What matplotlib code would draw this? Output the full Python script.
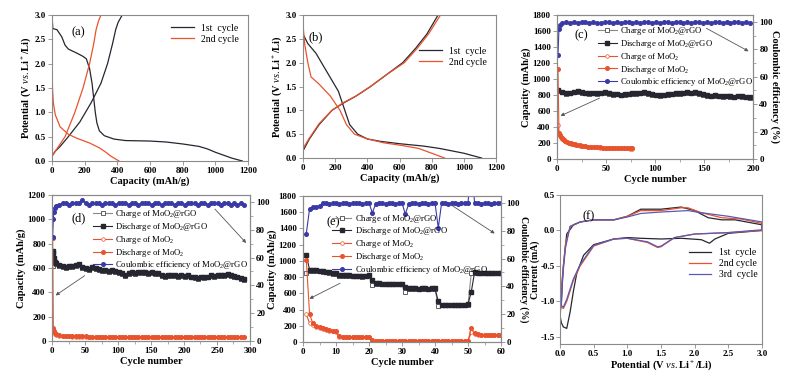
import numpy as np
import matplotlib
matplotlib.use('Agg')
import matplotlib.pyplot as plt
from matplotlib.ticker import MultipleLocator

plt.rcParams['font.family'] = ['Liberation Serif', 'DejaVu Serif']
plt.rcParams['mathtext.fontset'] = 'custom'
plt.rcParams['mathtext.rm'] = 'Liberation Serif'
plt.rcParams['mathtext.it'] = 'Liberation Serif:italic'
plt.rcParams['mathtext.bf'] = 'Liberation Serif:bold'
plt.rcParams['axes.unicode_minus'] = False

BLK = '#262630'
RED = '#e8532e'
BLU = '#3a3aa6'
GRY = '#8a8a8a'

########## (a) charge/discharge profiles ##########
a_dis1_cap = [0, 5, 30, 60, 80, 100, 150, 190, 210, 230, 245, 255, 265, 275, 290, 320, 380, 450, 600, 700, 800, 900, 950, 1000, 1050, 1100, 1165]
a_dis1_v = [3.0, 2.72, 2.7, 2.55, 2.38, 2.3, 2.22, 2.15, 2.1, 1.9, 1.6, 1.3, 1.0, 0.78, 0.62, 0.52, 0.45, 0.42, 0.41, 0.39, 0.35, 0.3, 0.25, 0.18, 0.12, 0.06, 0.0]
a_chg1_cap = [0, 20, 50, 100, 170, 240, 300, 340, 370, 390, 405, 430]
a_chg1_v = [0.1, 0.2, 0.3, 0.5, 0.8, 1.2, 1.6, 2.0, 2.4, 2.7, 2.85, 3.0]
a_dis2_cap = [0, 3, 8, 20, 50, 100, 150, 230, 290, 330, 360, 410]
a_dis2_v = [2.05, 1.5, 1.2, 0.95, 0.7, 0.55, 0.47, 0.37, 0.27, 0.18, 0.1, 0.0]
a_chg2_cap = [0, 40, 80, 140, 190, 230, 255, 270, 285, 300]
a_chg2_v = [0.1, 0.3, 0.5, 1.0, 1.5, 2.0, 2.4, 2.7, 2.88, 3.0]

########## (b) charge/discharge profiles ##########
b_dis1_cap = [0, 30, 80, 150, 220, 260, 290, 340, 400, 480, 600, 750, 850, 1000, 1110]
b_dis1_v = [2.6, 2.4, 2.2, 1.8, 1.4, 1.0, 0.7, 0.5, 0.4, 0.35, 0.3, 0.25, 0.2, 0.1, 0.0]
b_dis2_cap = [0, 10, 30, 50, 100, 170, 230, 270, 320, 400, 500, 620, 720, 800, 880]
b_dis2_v = [2.8, 2.4, 2.0, 1.7, 1.55, 1.3, 1.0, 0.7, 0.5, 0.4, 0.32, 0.26, 0.2, 0.1, 0.0]
b_chg1_cap = [0, 40, 100, 180, 250, 330, 420, 520, 620, 700, 770, 840]
b_chg1_v = [0.15, 0.4, 0.7, 1.0, 1.15, 1.3, 1.5, 1.75, 2.0, 2.3, 2.6, 3.0]
b_chg2_cap = [0, 40, 100, 180, 250, 330, 420, 520, 630, 710, 780, 855]
b_chg2_v = [0.2, 0.42, 0.72, 1.0, 1.16, 1.3, 1.5, 1.75, 2.0, 2.3, 2.6, 3.0]

########## (c) cycling 200 ##########
c_cyc = list(range(1, 200, 4))
c_dis = [860, 840, 825, 830, 840, 845, 835, 830, 825, 830, 820, 830, 835, 820, 810, 815, 805, 810, 815, 820,
         825, 830, 835, 820, 810, 805, 800, 805, 810, 815, 820, 825, 830, 835, 830, 835, 825, 810, 795, 790,
         795, 790, 785, 790, 785, 780, 790, 785, 780, 775]
c_chg = [850, 832, 818, 822, 833, 838, 828, 822, 818, 823, 813, 822, 828, 812, 803, 808, 798, 803, 808, 813,
         818, 823, 827, 813, 803, 798, 793, 798, 803, 808, 813, 818, 823, 828, 823, 828, 818, 803, 788, 783,
         788, 783, 778, 783, 778, 773, 783, 778, 773, 768]
c_ce_cyc = [1, 2, 3] + list(range(5, 200, 4))
c_ce = [76, 95, 98, 99, 100, 99, 100, 99, 100, 100, 99, 100, 99, 99, 100, 100, 99, 100, 99, 100,
        100, 99, 100, 99, 100, 100, 99, 100, 99, 100, 100, 99, 100, 100, 99, 100, 99, 100, 100, 99,
        100, 99, 100, 100, 99, 100, 99, 100, 100, 99, 100, 99]
c_m_cyc = [1, 2, 3, 4, 5, 6, 7, 8, 10, 12, 14, 16, 18, 20, 23, 26, 29, 32, 35, 38, 41, 44, 47, 50, 53, 56, 59, 62, 65, 68, 71, 74, 77]
c_m_dis = [1120, 330, 300, 280, 265, 250, 240, 230, 215, 205, 195, 188, 182, 176, 170, 165, 160, 156, 152, 149,
           146, 144, 142, 140, 138, 137, 136, 135, 134, 133, 133, 132, 132]
c_m_chg = [420, 310, 285, 270, 255, 245, 235, 225, 210, 200, 192, 185, 180, 174, 168, 163, 158, 154, 150, 147,
           144, 142, 140, 138, 137, 136, 135, 134, 133, 132, 132, 131, 131]

########## (d) cycling 300 ##########
d_cyc = [1, 2, 3, 4] + list(range(6, 292, 5))
d_dis = [740, 720, 680, 650,
         640, 625, 615, 610, 615, 620, 625, 635, 610, 600, 595, 605, 600, 590, 585, 580,
         575, 580, 575, 570, 555, 545, 560, 565, 560, 565, 570, 565, 560, 565, 560, 555,
         545, 535, 540, 545, 540, 535, 540, 535, 540, 530, 525, 520, 530, 525, 530, 540,
         535, 540, 545, 540, 550, 545, 535, 530, 515, 510]
d_chg = [620, 700, 665, 640,
         630, 615, 605, 600, 605, 610, 615, 625, 600, 592, 587, 597, 592, 582, 577, 572,
         567, 572, 567, 562, 547, 537, 552, 557, 552, 557, 562, 557, 552, 557, 552, 547,
         537, 527, 532, 537, 532, 527, 532, 527, 532, 522, 517, 512, 522, 517, 522, 532,
         527, 532, 537, 532, 542, 537, 527, 522, 507, 502]
d_ce = [75, 88, 93, 96,
        97, 98, 99, 99, 98, 99, 99, 99, 101.5, 99, 98, 99, 99, 99, 98, 99,
        99, 99, 98, 99, 99, 99, 98, 99, 99, 98, 99, 99, 99, 98, 99, 99,
        98, 99, 99, 99, 98, 99, 99, 98, 99, 99, 99, 98, 99, 99, 98, 99,
        99, 99, 98, 99, 99, 98, 99, 98, 99, 98]
d_m_dis = [850, 110, 80, 65,
           55, 48, 45, 42, 40, 39, 38, 38, 37, 37, 36, 36, 36, 35, 35, 35,
           35, 35, 35, 35, 35, 35, 35, 35, 35, 35, 35, 35, 35, 35, 35, 35,
           35, 35, 35, 35, 35, 35, 35, 35, 35, 35, 35, 35, 35, 35, 35, 35,
           35, 35, 35, 35, 35, 35, 35, 35, 35, 35]
d_m_chg = [100, 90, 70, 58,
           50, 44, 41, 39, 37, 36, 35, 35, 34, 34, 33, 33, 33, 32, 32, 32,
           32, 32, 32, 32, 32, 32, 32, 32, 32, 32, 32, 32, 32, 32, 32, 32,
           32, 32, 32, 32, 32, 32, 32, 32, 32, 32, 32, 32, 32, 32, 32, 32,
           32, 32, 32, 32, 32, 32, 32, 32, 32, 32]

########## (e) rate capability ##########
e_cyc = list(range(1, 61))
e_dis = [1070, 890, 890, 885, 880, 870, 865, 860, 850, 845,
         825, 825, 820, 820, 815, 815, 815, 810, 815, 820,
         760, 730, 725, 720, 720, 720, 715, 715, 720, 715,
         680, 660, 660, 660, 655, 660, 660, 655, 660, 660,
         500, 460, 460, 460, 460, 460, 460, 460, 460, 465,
         620, 860, 855, 855, 855, 850, 850, 850, 850, 850]
e_chg = [850, 870, 880, 878, 872, 864, 858, 852, 844, 838,
         815, 818, 814, 814, 810, 810, 810, 806, 810, 814,
         700, 720, 720, 716, 716, 716, 712, 712, 716, 712,
         620, 650, 655, 655, 650, 655, 655, 650, 655, 655,
         440, 455, 456, 456, 456, 456, 456, 456, 456, 460,
         850, 855, 852, 852, 852, 848, 848, 848, 848, 848]
e_ce = [78, 96, 97, 97, 98, 100, 100, 99.5, 100, 100,
        99.5, 100, 100, 99.5, 100, 100, 100, 99.5, 100, 100,
        93, 99, 100, 100, 99.5, 100, 100, 99.5, 100, 100,
        92, 99, 100, 100, 99.5, 100, 100, 99.5, 100, 100,
        82, 100, 100, 99.5, 100, 100, 99.5, 100, 100, 100,
        130, 100, 100, 99.5, 100, 100, 99.5, 100, 100, 100]
e_m_dis = [1010, 340, 230, 200, 185, 170, 160, 150, 140, 130,
           70, 65, 65, 65, 65, 65, 65, 62, 62, 62,
           22, 15, 15, 15, 15, 15, 15, 15, 15, 15,
           15, 15, 15, 15, 15, 15, 15, 15, 15, 15,
           15, 15, 15, 15, 15, 15, 15, 15, 15, 15,
           170, 110, 95, 90, 88, 88, 88, 88, 88, 88]
e_m_chg = [340, 230, 205, 185, 170, 160, 150, 140, 130, 120,
           60, 58, 58, 58, 58, 58, 58, 58, 58, 58,
           15, 12, 12, 12, 12, 12, 12, 12, 12, 12,
           12, 12, 12, 12, 12, 12, 12, 12, 12, 12,
           12, 12, 12, 12, 12, 12, 12, 12, 12, 12,
           120, 95, 85, 85, 85, 85, 85, 85, 85, 85]

########## (f) CV ##########
f_v1 = [3.0, 2.5, 2.3, 2.22, 2.1, 1.8, 1.5, 1.2, 1.0, 0.8, 0.5, 0.35, 0.25, 0.2, 0.15, 0.1, 0.05, 0.02, 0.0,
        0.02, 0.05, 0.1, 0.2, 0.3, 0.5, 0.8, 1.0, 1.2, 1.5, 1.8, 2.0, 2.2, 2.4, 2.6, 3.0, 3.0]
f_i1 = [0.0, -0.04, -0.12, -0.18, -0.13, -0.11, -0.12, -0.11, -0.1, -0.12, -0.2, -0.35, -0.6, -0.85, -1.15, -1.38, -1.36, -1.3, -1.2,
        -1.0, -0.5, -0.05, 0.08, 0.12, 0.15, 0.15, 0.2, 0.3, 0.3, 0.33, 0.28, 0.18, 0.15, 0.15, 0.08, 0.0]
f_v2 = [3.0, 2.5, 2.0, 1.7, 1.5, 1.45, 1.3, 1.0, 0.8, 0.5, 0.3, 0.2, 0.1, 0.05, 0.02,
        0.03, 0.08, 0.15, 0.3, 0.5, 0.8, 1.0, 1.2, 1.5, 1.8, 1.9, 2.1, 2.4, 2.7, 3.0, 3.0]
f_i2 = [0.0, -0.03, -0.05, -0.1, -0.23, -0.24, -0.17, -0.11, -0.12, -0.22, -0.5, -0.7, -1.0, -1.1, -1.08,
        -0.7, -0.2, 0.05, 0.12, 0.15, 0.15, 0.2, 0.28, 0.28, 0.32, 0.32, 0.25, 0.18, 0.16, 0.1, 0.0]
f_v3 = [3.0, 2.5, 2.0, 1.7, 1.5, 1.45, 1.3, 1.0, 0.8, 0.5, 0.3, 0.2, 0.1, 0.05, 0.02,
        0.03, 0.08, 0.15, 0.3, 0.5, 0.8, 1.0, 1.2, 1.5, 1.9, 2.1, 2.5, 3.0, 3.0]
f_i3 = [0.01, -0.03, -0.05, -0.1, -0.22, -0.23, -0.16, -0.11, -0.12, -0.21, -0.48, -0.68, -0.97, -1.08, -1.06,
        -0.75, -0.25, 0.06, 0.12, 0.15, 0.15, 0.19, 0.24, 0.26, 0.28, 0.25, 0.2, 0.12, 0.01]

W, H = 792, 376
fig = plt.figure(figsize=(W / 100, H / 100), dpi=100)


def box(x0, y0, x1, y1):
    return fig.add_axes([x0 / W, 1 - y1 / H, (x1 - x0) / W, (y1 - y0) / H])


def style(ax, pad=1.5):
    for s in ax.spines.values():
        s.set_color(GRY)
        s.set_linewidth(0.8)
    ax.tick_params(direction='out', length=3, width=0.6, color=GRY, labelsize=6.5, pad=pad)
    ax.tick_params(which='minor', direction='out', length=1.8, width=0.5, color=GRY)
    for t in ax.get_xticklabels() + ax.get_yticklabels():
        t.set_fontweight('bold')


lab = dict(fontsize=7.5, fontweight='bold', labelpad=1)
vlab = r'Potential (V $\mathit{vs.}$Li$\mathbf{^+}$/Li)'
mo2g = r'MoO$_2$@rGO'
mo2 = r'MoO$_2$'

# (a)
ax = box(52, 15, 248, 161)
ax.plot(a_dis1_cap, a_dis1_v, color=BLK, lw=0.9, label='1st  cycle')
ax.plot(a_chg1_cap, a_chg1_v, color=BLK, lw=0.9)
ax.plot(a_dis2_cap, a_dis2_v, color=RED, lw=0.9, label='2nd cycle')
ax.plot(a_chg2_cap, a_chg2_v, color=RED, lw=0.9)
ax.set_xlim(0, 1200)
ax.set_ylim(0, 3.0)
ax.xaxis.set_major_locator(MultipleLocator(200))
ax.yaxis.set_major_locator(MultipleLocator(0.5))
ax.yaxis.set_major_formatter('{x:.1f}')
ax.set_xlabel('Capacity (mAh/g)', **lab)
ax.set_ylabel(vlab, **lab)
ax.text(0.1, 0.86, '(a)', transform=ax.transAxes, fontsize=9)
ax.legend(loc='upper right', frameon=False, fontsize=7, handlelength=2.3, labelspacing=0.2,
          bbox_to_anchor=(1.0, 1.0))
style(ax)

# (b)
ax = box(303, 15, 496, 158)
ax.plot(b_dis1_cap, b_dis1_v, color=BLK, lw=0.9, label='1st  cycle')
ax.plot(b_chg1_cap, b_chg1_v, color=BLK, lw=0.9)
ax.plot(b_dis2_cap, b_dis2_v, color=RED, lw=0.9, label='2nd cycle')
ax.plot(b_chg2_cap, b_chg2_v, color=RED, lw=0.9)
ax.set_xlim(0, 1200)
ax.set_ylim(0, 3.0)
ax.xaxis.set_major_locator(MultipleLocator(200))
ax.yaxis.set_major_locator(MultipleLocator(0.5))
ax.yaxis.set_major_formatter('{x:.1f}')
ax.set_xlabel('Capacity (mAh/g)', **lab)
ax.set_ylabel(vlab, **lab)
ax.text(0.03, 0.82, '(b)', transform=ax.transAxes, fontsize=9)
ax.legend(loc='upper right', frameon=False, fontsize=7, handlelength=2.3, labelspacing=0.2,
          bbox_to_anchor=(1.0, 0.84))
style(ax)


def cycling(box_px, tag, tag_xy, cyc, chg, dis, m_cyc, m_chg, m_dis, ce_cyc, ce, xmax, xstep,
            ymax, ystep, arr1, arr2, leg_xy, ms, right_x=None, rpad=1.5, rsize=7.5):
    ax = box(*box_px)
    ax2 = ax.twinx()
    h1, = ax.plot(cyc, chg, color=GRY, lw=0.8, marker='s', ms=ms, mfc='white', mec=BLK, mew=0.5,
                  label='Charge of ' + mo2g)
    h2, = ax.plot(cyc, dis, color=BLK, lw=0.8, marker='s', ms=ms, label='Discharge of ' + mo2g)
    h3, = ax.plot(m_cyc, m_chg, color=RED, lw=0.8, marker='o', ms=ms, mfc='white', mew=0.5,
                  label='Charge of ' + mo2)
    h4, = ax.plot(m_cyc, m_dis, color=RED, lw=0.8, marker='o', ms=ms, label='Discharge of ' + mo2)
    h5, = ax2.plot(ce_cyc, ce, color=BLU, lw=0.8, marker='o', ms=ms,
                   label='Coulombic efficiency of ' + mo2g)
    ax.set_xlim(0, xmax)
    ax.set_ylim(0, ymax)
    ax2.set_ylim(0, 105)
    ax.xaxis.set_major_locator(MultipleLocator(xstep))
    ax.xaxis.set_minor_locator(MultipleLocator(xstep / 2))
    ax.yaxis.set_major_locator(MultipleLocator(ystep))
    ax2.yaxis.set_major_locator(MultipleLocator(20))
    ax2.yaxis.set_minor_locator(MultipleLocator(10))
    ax.set_xlabel('Cycle number', **lab)
    ax.set_ylabel('Capacity (mAh/g)', **lab)
    if right_x is not None:
        ax2.set_ylabel('Coulombic efficiency (%)', rotation=270, fontsize=rsize, fontweight='bold')
        ax2.yaxis.set_label_coords(right_x, 0.5)
        ax2.yaxis.label.set_va('center')
    ax.text(tag_xy[0], tag_xy[1], tag, transform=ax.transAxes, fontsize=9)
    ap = dict(arrowstyle='-|>', color='#555555', lw=0.6, mutation_scale=5)
    ax.annotate('', xy=arr1[1], xytext=arr1[0], arrowprops=ap)
    ax.annotate('', xy=arr2[1], xytext=arr2[0], arrowprops=ap)
    ax2.legend(handles=[h1, h2, h3, h4, h5], loc='upper left', bbox_to_anchor=leg_xy, frameon=False,
               fontsize=6.2, handlelength=2.2, labelspacing=0.1, borderaxespad=0, handletextpad=0.4)
    style(ax)
    style(ax2, pad=rpad)
    return ax, ax2


cycling((557, 15, 753, 159), '(c)', (0.09, 0.84), c_cyc, c_chg, c_dis, c_m_cyc, c_m_chg, c_m_dis,
        c_ce_cyc, c_ce, 200, 50, 1800, 200,
        ((46, 775), (1, 525)), ((150, 1650), (198, 1330)), (0.19, 0.955), 2.6,
        right_x=(775 - 557) / 196)

cycling((52, 195, 250, 341), '(d)', (0.1, 0.82), d_cyc, d_chg, d_dis, d_cyc, d_m_chg, d_m_dis,
        d_cyc, d_ce, 300, 50, 1200, 200,
        ((53, 550), (2, 362)), ((244, 1101), (297, 789)), (0.19, 0.935), 2.6)

cycling((303, 196, 501, 342), '(e)', (0.12, 0.8), e_cyc, e_chg, e_dis, e_cyc, e_m_chg, e_m_dis,
        e_cyc, e_ce, 60, 10, 1800, 200,
        ((12, 740), (1.2, 518)), ((44, 1714), (58.8, 1319)), (0.13, 0.91), 2.6,
        right_x=(524 - 303) / 198, rpad=0.8, rsize=7)

# (f)
ax = box(560, 195, 762, 344)
ax.plot(f_v1, f_i1, color=BLK, lw=0.9, label='1st  cycle')
ax.plot(f_v2, f_i2, color=RED, lw=0.9, label='2nd cycle')
ax.plot(f_v3, f_i3, color='#5a5ab8', lw=0.9, label='3rd  cycle')
ax.set_xlim(0, 3.0)
ax.set_ylim(-1.6, 0.5)
ax.xaxis.set_major_locator(MultipleLocator(0.5))
ax.yaxis.set_major_locator(MultipleLocator(0.5))
ax.xaxis.set_major_formatter('{x:.1f}')
ax.yaxis.set_major_formatter('{x:.1f}')
ax.set_xlabel(vlab, **lab)
ax.set_ylabel('Current (mA)', fontsize=7, fontweight='bold')
ax.yaxis.set_label_coords((535.5 - 560) / 202, 0.5)
ax.yaxis.label.set_va('center')
ax.text(0.11, 0.84, '(f)', transform=ax.transAxes, fontsize=9)
ax.legend(loc='upper left', bbox_to_anchor=(0.62, 0.67), frameon=False, fontsize=7,
          handlelength=2.3, labelspacing=0.2, borderaxespad=0)
style(ax, pad=1.0)

fig.savefig('out.png', dpi=100)
